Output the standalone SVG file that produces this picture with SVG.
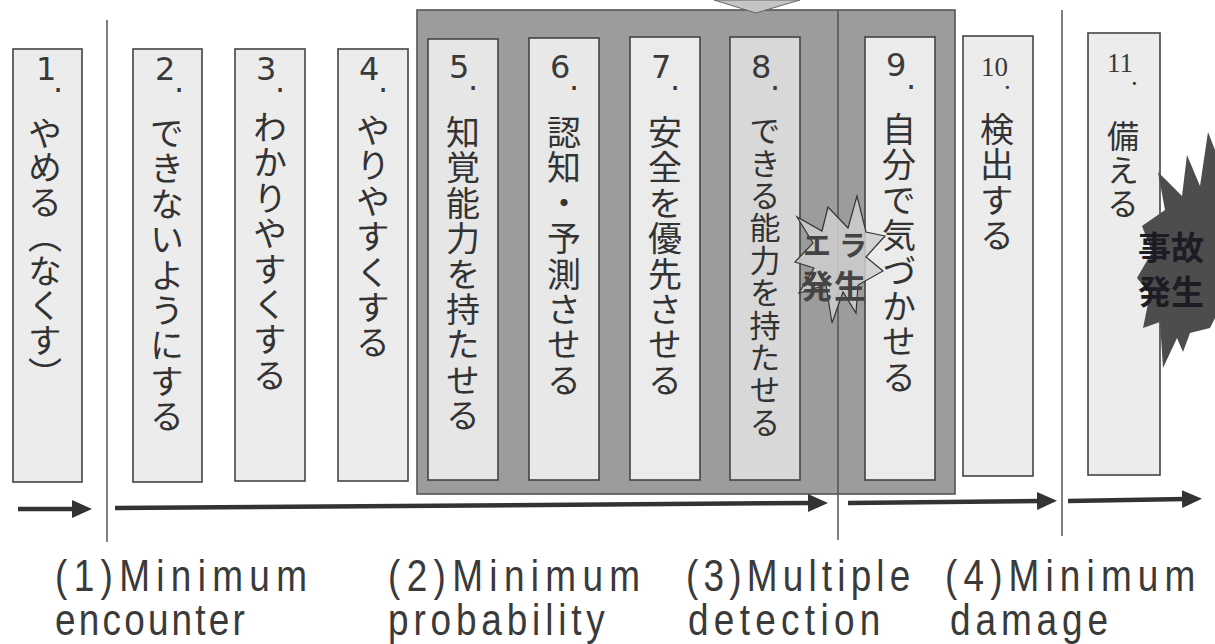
<svg xmlns="http://www.w3.org/2000/svg" width="1215" height="644" viewBox="0 0 1215 644">
<style>
.box{fill:#ececec;stroke:#444;stroke-width:1.6}
.num{font-family:"DejaVu Sans","Liberation Sans",sans-serif;font-size:32px;fill:#3a3a3a}
.numt{font-family:"Liberation Serif",serif;font-size:27px;fill:#3a3a3a}
.vt{font-family:"Noto Sans CJK JP",sans-serif;font-size:34px;fill:#333;writing-mode:vertical-rl;letter-spacing:1.4px}
.div{stroke:#555;stroke-width:1.5;fill:none}
.arr{stroke:#333;stroke-width:4.5;fill:none;marker-end:url(#ah)}
.lab{font-family:"Liberation Sans",Arial,sans-serif;font-size:44px;fill:#3a3a3a}
.acc{font-family:"Noto Sans CJK JP",sans-serif;font-size:33px;font-weight:bold;fill:#1c1c24}
</style>
<defs>
<marker id="ah" markerUnits="userSpaceOnUse" markerWidth="20" markerHeight="20" viewBox="0 0 20 20" refX="4" refY="10" orient="auto">
<path d="M0,1 L20,10 L0,19 Z" fill="#333"/>
</marker>
</defs>
<rect width="1215" height="644" fill="#fff"/>

<g id="panel">
<rect x="417" y="10" width="538" height="484" fill="#9c9c9c" stroke="#555" stroke-width="1.6"/>
<polygon points="714,0 800,0 756,13" fill="#c4c4c4" stroke="#666" stroke-width="1"/>
</g>

<g id="connectors">
<line class="div" x1="107" y1="20" x2="107" y2="542"/>
<line class="div" x1="838" y1="10" x2="838" y2="540"/>
<line class="div" x1="1062" y1="10" x2="1062" y2="536"/>
<line class="arr" x1="18" y1="509" x2="76" y2="509"/>
<line class="arr" x1="115" y1="508" x2="812" y2="503"/>
<line class="arr" x1="848" y1="503" x2="1041" y2="501"/>
<line class="arr" x1="1068" y1="501" x2="1186" y2="499"/>
</g>

<g id="node1">
<rect class="box" x="13" y="49" width="69" height="433"/>
<text class="num" x="36" y="80">1<tspan x="53" y="92">.</tspan></text>
<text class="vt" x="45" y="116" style="letter-spacing:0.5px">やめる（なくす）</text>
</g>
<g id="node2">
<rect class="box" x="133" y="49" width="69" height="433"/>
<text class="num" x="155" y="80">2<tspan x="174" y="92">.</tspan></text>
<text class="vt" x="167" y="116">できないようにする</text>
</g>
<g id="node3">
<rect class="box" x="235" y="49" width="70" height="432"/>
<text class="num" x="256" y="80">3<tspan x="275" y="92">.</tspan></text>
<text class="vt" x="270" y="110">わかりやすくする</text>
</g>
<g id="node4">
<rect class="box" x="338" y="49" width="70" height="432"/>
<text class="num" x="359" y="80">4<tspan x="378" y="92">.</tspan></text>
<text class="vt" x="373" y="113">やりやすくする</text>
</g>
<g id="node5">
<rect class="box" x="428" y="39" width="70" height="441" style="fill:#e6e6e6"/>
<text class="num" x="449" y="78">5<tspan x="468" y="90">.</tspan></text>
<text class="vt" x="463" y="115">知覚能力を持たせる</text>
</g>
<g id="node6">
<rect class="box" x="529" y="38" width="70" height="442" style="fill:#e8e8e8"/>
<text class="num" x="550" y="78">6<tspan x="569" y="90">.</tspan></text>
<text class="vt" x="564" y="115">認知・予測させる</text>
</g>
<g id="node7">
<rect class="box" x="630" y="37" width="70" height="443" style="fill:#ebebeb"/>
<text class="num" x="651" y="78">7<tspan x="670" y="90">.</tspan></text>
<text class="vt" x="665" y="115">安全を優先させる</text>
</g>
<g id="node8">
<rect class="box" x="730" y="37" width="70" height="443" style="fill:#d8d8d8"/>
<text class="num" x="751" y="78">8<tspan x="770" y="90">.</tspan></text>
<text class="vt" x="765" y="115" style="font-size:31px">できる能力を持たせる</text>
</g>
<g id="node9">
<rect class="box" x="865" y="37" width="70" height="443" style="fill:#ebebeb"/>
<text class="num" x="886" y="76">9<tspan x="906" y="89">.</tspan></text>
<text class="vt" x="899" y="112">自分で気づかせる</text>
</g>
<g id="node10">
<rect class="box" x="963" y="36" width="70" height="440"/>
<text class="numt" x="981" y="76">10<tspan x="1004" y="89">.</tspan></text>
<text class="vt" x="997" y="112">検出する</text>
</g>
<g id="node11">
<rect class="box" x="1088" y="33" width="72" height="442"/>
<text class="numt" x="1107" y="72">11<tspan x="1131" y="85">.</tspan></text>
<text class="vt" x="1123" y="120" style="font-size:32px">備える</text>
</g>

<g id="error">
<polygon points="857,196 848,228 828,207 822,231 797,217 813,243 795,262 814,268 799,293 826,285 832,323 843,292 856,313 858,285 883,271 866,257 885,236 866,232" fill="#cfcfcf" fill-opacity="0.85" stroke="#333" stroke-width="1.2"/>
<text x="803" y="256" style="font-family:'Noto Sans CJK JP',sans-serif;font-size:28px;font-weight:bold;fill:#444;letter-spacing:8px">エラ</text>
<text x="801" y="298" style="font-family:'Noto Sans CJK JP',sans-serif;font-size:32px;font-weight:bold;fill:#444;letter-spacing:1px">発生</text>
</g>

<g id="accident">
<polygon points="1208,132 1200,186 1187,155 1182,196 1158,172 1165,210 1142,226 1152,252 1137,278 1150,294 1143,328 1160,322 1163,368 1177,338 1183,352 1190,333 1210,328 1215,318 1215,150" fill="#4d4d4d"/>
<text class="acc" x="1138" y="260">事故</text>
<text class="acc" x="1138" y="304">発生</text>
</g>

<g id="labels" transform="scale(0.84,1)">
<text class="lab" x="65.5" y="591" textLength="300" lengthAdjust="spacing">(1)Minimum</text>
<text class="lab" x="65.5" y="635" textLength="226" lengthAdjust="spacing">encounter</text>
<text class="lab" x="462" y="591" textLength="300" lengthAdjust="spacing">(2)Minimum</text>
<text class="lab" x="462" y="635" textLength="258" lengthAdjust="spacing">probability</text>
<text class="lab" x="816.7" y="591" textLength="267" lengthAdjust="spacing">(3)Multiple</text>
<text class="lab" x="819" y="635" textLength="229" lengthAdjust="spacing">detection</text>
<text class="lab" x="1125" y="591" textLength="298" lengthAdjust="spacing">(4)Minimum</text>
<text class="lab" x="1131" y="635" textLength="188" lengthAdjust="spacing">damage</text>
</g>
</svg>
